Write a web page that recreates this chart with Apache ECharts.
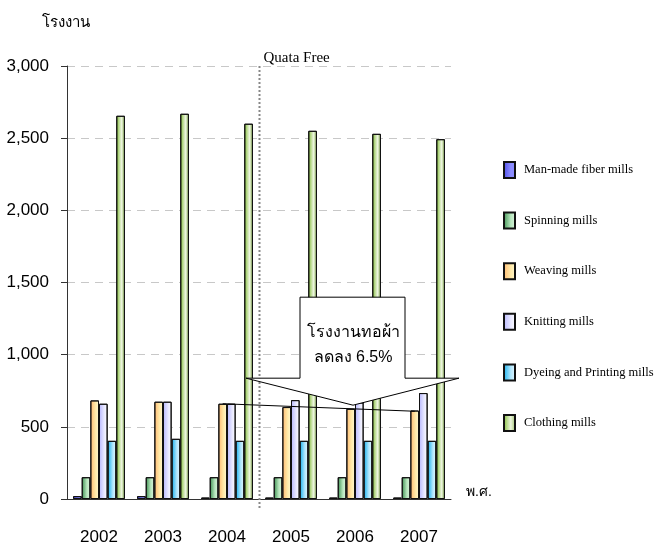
<!DOCTYPE html>
<html>
<head>
<meta charset="utf-8">
<script src="https://cdn.jsdelivr.net/npm/echarts@6/dist/echarts.min.js"></script>
<style>
  html, body { margin: 0; padding: 0; background: #fff; }
  #chart { width: 654px; height: 547px; }
</style>
</head>
<body>
<div id="chart"></div>
<script>
const years = ['2002', '2003', '2004', '2005', '2006', '2007']
const manMade = [20, 20, 10, 10, 10, 10]
const spinning = [151, 151, 151, 151, 151, 151]
const weaving = [683, 674, 660, 637, 625, 613]
const knitting = [660, 674, 660, 685, 669, 734]
const dyeing = [403, 417, 403, 403, 403, 403]
const clothing = [2655, 2669, 2600, 2551, 2530, 2493]
const yTicks = [0, 500, 1000, 1500, 2000, 2500, 3000]

const serif = '"Liberation Serif", "DejaVu Serif", serif'
const sans = '"Liberation Sans", Arial, "Noto Sans", sans-serif'

function grad (c1, c2, c3) {
  const stops = [{offset: 0, color: c1}, {offset: 0.6, color: c2}]
  stops.push({offset: 1, color: c3 || c2})
  return new echarts.graphic.LinearGradient(0, 0, 1, 0, stops)
}

const seriesDefs = [
  {name: 'Man-made fiber mills', data: manMade, color: grad('#4a4ae6', '#8c8cff')},
  {name: 'Spinning mills', data: spinning, color: grad('#3a8d4e', '#b8e6be', '#dcf4de')},
  {name: 'Weaving mills', data: weaving, color: grad('#ffb870', '#ffe9a8', '#fff9d0')},
  {name: 'Knitting mills', data: knitting, color: grad('#b6b6ff', '#e8e8ff', '#ffffff')},
  {name: 'Dyeing and Printing mills', data: dyeing, color: grad('#0eaeee', '#b2e6fc', '#e6f7ff')},
  {name: 'Clothing mills', data: clothing, color: grad('#80bc34', '#ecf5de', '#94ba60')}
]

const chart = echarts.init(document.getElementById('chart'))

chart.setOption({
  animation: false,
  title: {
    text: 'โรงงาน',
    left: 37,
    top: 11,
    textStyle: {fontFamily: serif, fontSize: 15, fontWeight: 'normal', color: '#000'}
  },
  grid: {left: 67, top: 66, width: 384, height: 433},
  legend: {
    orient: 'vertical',
    left: 503,
    top: 161,
    padding: 0,
    icon: 'rect',
    itemWidth: 11,
    itemHeight: 16,
    itemGap: 32.6,
    textStyle: {fontFamily: serif, fontSize: 12.5, color: '#000', padding: [3, 0, 0, 4]},
    data: seriesDefs.map(s => s.name)
  },
  xAxis: {
    type: 'category',
    data: years,
    name: 'พ.ศ.',
    nameGap: 15,
    nameTextStyle: {fontFamily: sans, fontSize: 14, color: '#000', verticalAlign: 'bottom', padding: [0, 0, 0, 0]},
    axisLine: {lineStyle: {color: '#333', width: 1}},
    axisTick: {length: 10, lineStyle: {color: '#333'}},
    axisLabel: {margin: 30, fontFamily: sans, fontSize: 17, color: '#000'}
  },
  yAxis: {
    type: 'value',
    min: 0,
    max: 3000,
    interval: 500,
    axisLine: {show: true, lineStyle: {color: '#333'}},
    axisTick: {show: true, length: 6, lineStyle: {color: '#333'}},
    axisLabel: {
      margin: 18,
      fontFamily: sans,
      fontSize: 17,
      color: '#000',
      formatter: v => yTicks.includes(v) ? v.toLocaleString('en-US') : ''
    },
    splitLine: {lineStyle: {color: '#c8c8c8', type: [8, 6]}}
  },
  series: seriesDefs.map((s, i) => {
    const ser = {
      name: s.name,
      type: 'bar',
      data: s.data,
      barGap: '0%',
      barCategoryGap: '19%',
      itemStyle: {color: s.color, borderColor: '#111', borderWidth: 1}
    }
    if (i === 2) {
      ser.markLine = {
        silent: true,
        symbol: 'none',
        label: {show: false},
        lineStyle: {color: '#000', width: 1, type: 'solid'},
        data: [[{coord: ['2004', 660]}, {coord: ['2007', 608]}]]
      }
    }
    return ser
  })
})

// quota line and callout, placed through the chart's own scales
const xa = chart.convertToPixel({xAxisIndex: 0}, '2004')
const xb = chart.convertToPixel({xAxisIndex: 0}, '2005')
const quotaX = Math.round((xa + xb) / 2) + 0.5
const tip = chart.convertToPixel({gridIndex: 0}, ['2006', 650])
const tx = tip[0] - 2
const ty = tip[1]

chart.setOption({
  graphic: [
    {
      type: 'line',
      shape: {x1: quotaX, y1: 66, x2: quotaX, y2: 510},
      style: {stroke: '#888', lineWidth: 2, lineDash: [2, 2]},
      z: 5
    },
    {
      type: 'text',
      left: quotaX + 4,
      top: 51,
      style: {text: 'Quata Free', font: '15px ' + serif, fill: '#000'},
      z: 5
    },
    {
      type: 'polygon',
      shape: {
        points: [
          [tx - 53, ty - 108], [tx + 52, ty - 108], [tx + 52, ty - 27],
          [tx + 106, ty - 27], [tx, ty], [tx - 107, ty - 27], [tx - 53, ty - 27]
        ]
      },
      style: {fill: '#fff', stroke: '#000', lineWidth: 1},
      z: 10
    },
    {
      type: 'text',
      x: tx,
      y: ty - 60,
      style: {
        text: 'โรงงานทอผ้า\nลดลง 6.5%',
        font: '16px ' + sans,
        fill: '#000',
        align: 'center',
        verticalAlign: 'middle',
        lineHeight: 25
      },
      z: 11
    }
  ]
})
</script>
</body>
</html>
